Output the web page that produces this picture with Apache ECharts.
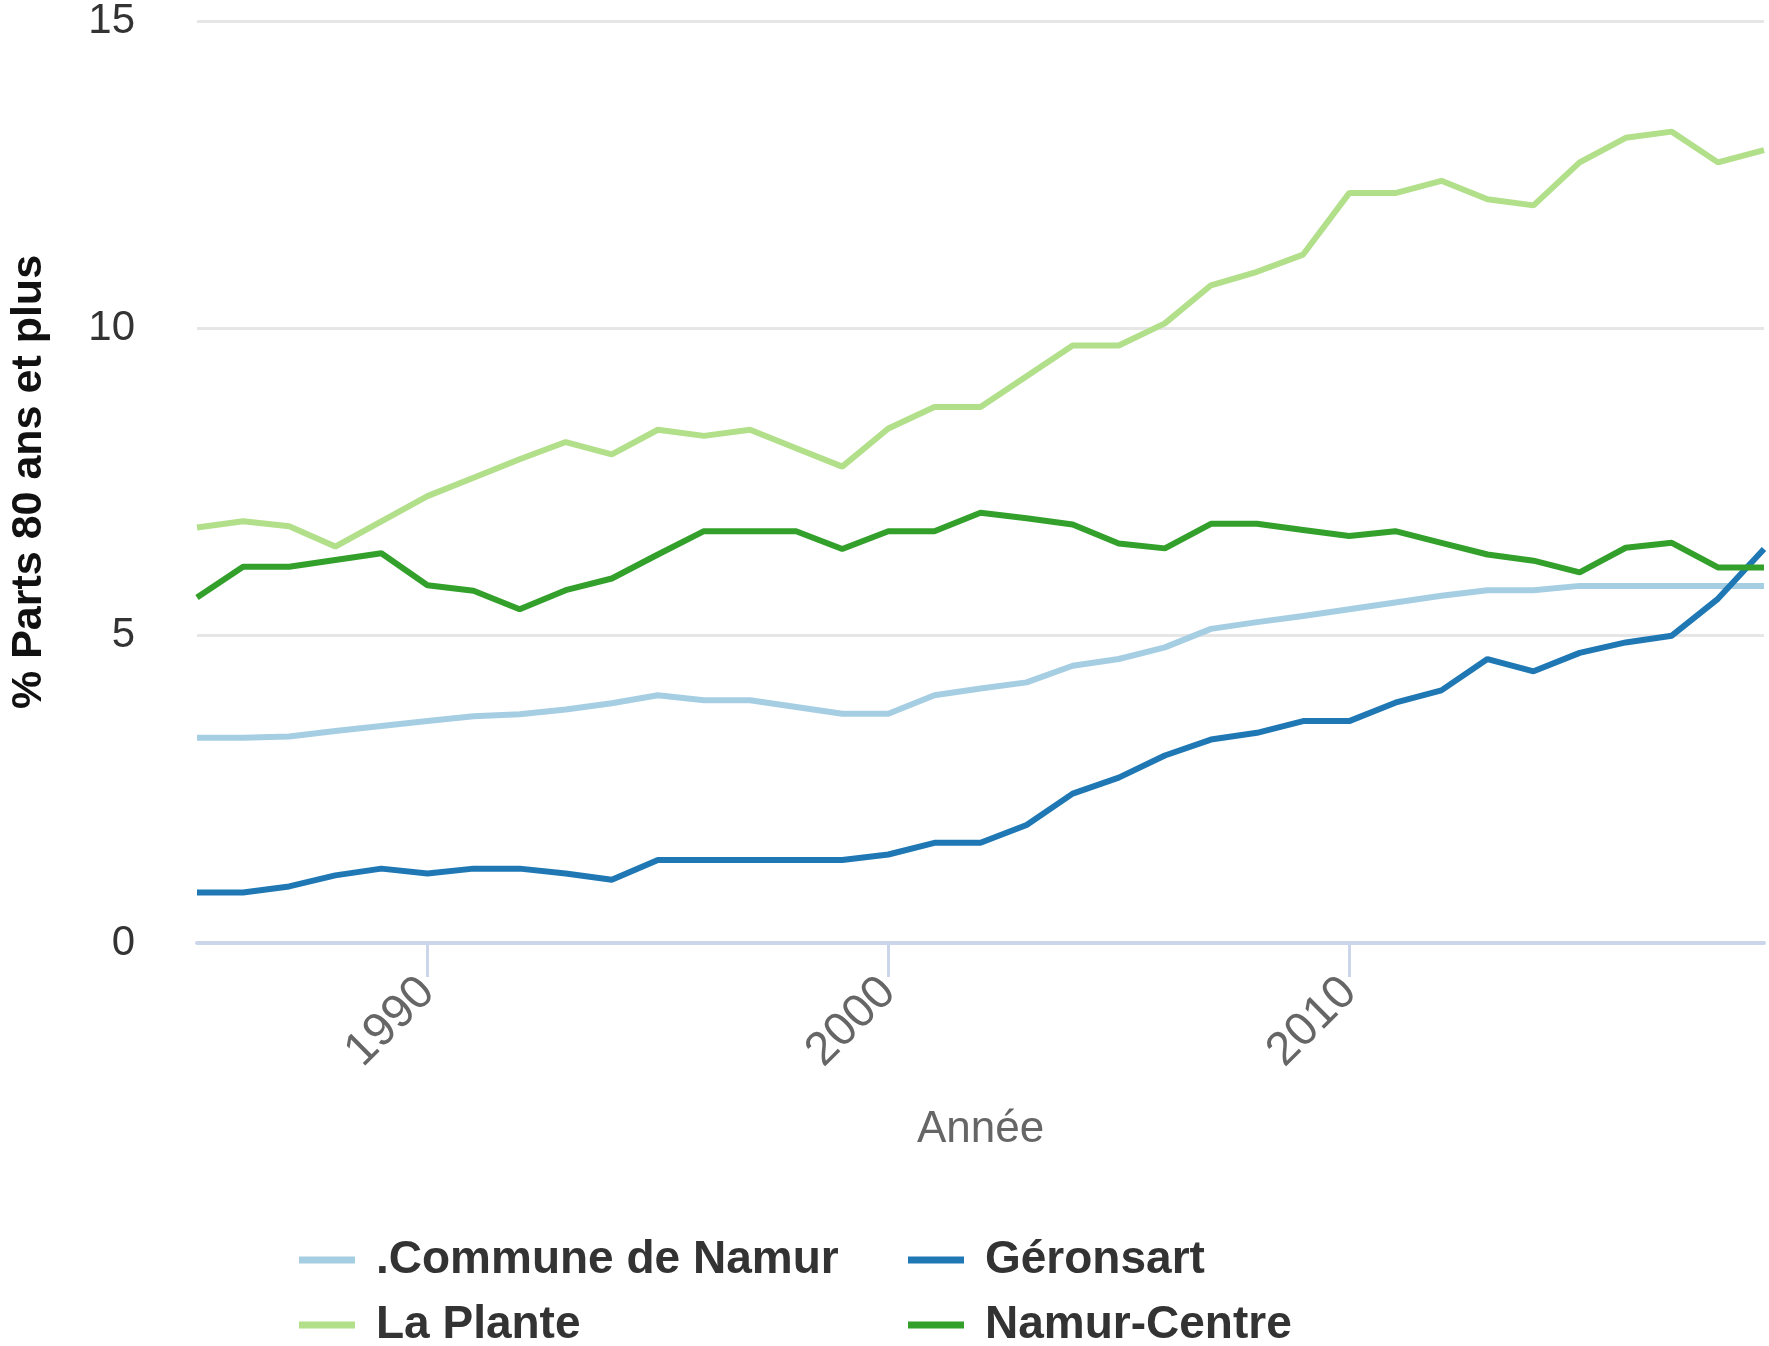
<!DOCTYPE html>
<html>
<head>
<meta charset="utf-8">
<script src="https://cdn.jsdelivr.net/npm/echarts@6/dist/echarts.min.js"></script>
<style>
html,body{margin:0;padding:0;background:#fff;}
#chart{width:1769px;height:1346px;}
</style>
</head>
<body>
<div id="chart"></div>
<script>
const years = ['1985','1986','1987','1988','1989','1990','1991','1992','1993','1994','1995','1996','1997','1998','1999','2000','2001','2002','2003','2004','2005','2006','2007','2008','2009','2010','2011','2012','2013','2014','2015','2016','2017','2018','2019'];
const seriesNames = ['.Commune de Namur','Géronsart','La Plante','Namur-Centre'];
const communeNamur = [3.34,3.34,3.36,3.45,3.53,3.61,3.69,3.72,3.80,3.90,4.03,3.95,3.95,3.84,3.73,3.73,4.03,4.14,4.24,4.51,4.62,4.81,5.11,5.22,5.32,5.43,5.54,5.65,5.74,5.74,5.81,5.81,5.81,5.81,5.81];
const geronsart = [0.82,0.82,0.92,1.10,1.21,1.13,1.21,1.21,1.13,1.03,1.35,1.35,1.35,1.35,1.35,1.44,1.63,1.63,1.92,2.43,2.69,3.05,3.31,3.42,3.61,3.61,3.91,4.11,4.62,4.42,4.72,4.89,5.00,5.60,6.41];
const laPlante = [6.76,6.86,6.78,6.45,6.86,7.27,7.57,7.87,8.15,7.95,8.35,8.25,8.35,8.05,7.75,8.37,8.72,8.72,9.22,9.72,9.72,10.08,10.70,10.92,11.20,12.20,12.20,12.40,12.10,12.00,12.70,13.10,13.20,12.70,12.90];
const namurCentre = [5.62,6.12,6.12,6.23,6.34,5.82,5.73,5.43,5.74,5.93,6.32,6.70,6.70,6.70,6.41,6.70,6.70,7.00,6.91,6.81,6.50,6.42,6.82,6.82,6.72,6.62,6.70,6.51,6.32,6.22,6.03,6.43,6.51,6.11,6.11];
const colors = ['#a6cee3','#1f78b4','#b2df8a','#33a02c'];
const yTicks = {min: 0, max: 15, interval: 5};
const xLabelEvery = 10;

const chart = echarts.init(document.getElementById('chart'), null, {renderer: 'canvas'});
const values = [communeNamur, geronsart, laPlante, namurCentre];
const legendLefts = [299, 908, 299, 908];
const legendTops = [1237, 1237, 1302, 1302];
const legends = seriesNames.map((n, i) => ({
  data: [n], orient: 'horizontal', left: legendLefts[i], top: legendTops[i],
  icon: 'rect', itemWidth: 56, itemHeight: 7, padding: 0,
  textStyle: {fontFamily: 'Liberation Sans, Arial, sans-serif', fontSize: 46, fontWeight: 'bold', color: '#333333', padding: [0,0,0,16]}
}));
chart.setOption({
  animation: false,
  color: colors,
  textStyle: {fontFamily: 'Liberation Sans, Arial, sans-serif'},
  grid: {left: 189, right: 5, top: 18, bottom: 403, containLabel: false},
  legend: legends,
  xAxis: {
    type: 'category', boundaryGap: false, data: years,
    name: 'Année', nameLocation: 'middle', nameGap: 165,
    nameTextStyle: {fontSize: 44, color: '#666666'},
    axisLine: {lineStyle: {color: '#ccd6eb', width: 4}},
    axisTick: {length: 34, lineStyle: {color: '#ccd6eb', width: 3}, interval: (i, v) => Number(v) % xLabelEvery === 0},
    axisLabel: {rotate: 45, margin: 42, fontSize: 47, color: '#666666', interval: (i, v) => Number(v) % xLabelEvery === 0},
    splitLine: {show: false}
  },
  yAxis: {
    type: 'value', min: yTicks.min, max: yTicks.max, interval: yTicks.interval,
    name: '% Parts 80 ans et plus', nameLocation: 'middle', nameGap: 146, nameRotate: 90,
    nameTextStyle: {fontSize: 43, fontWeight: 'bold', color: '#111111'},
    axisLine: {show: false}, axisTick: {show: false},
    axisLabel: {fontSize: 42, color: '#333333', margin: 62},
    splitLine: {lineStyle: {color: '#e6e6e6', width: 3}}
  },
  series: seriesNames.map((n, i) => ({
    name: n, type: 'line', data: values[i], symbol: 'none', smooth: false,
    lineStyle: {width: 6, color: colors[i]}, itemStyle: {color: colors[i]}
  }))
});
</script>
</body>
</html>
